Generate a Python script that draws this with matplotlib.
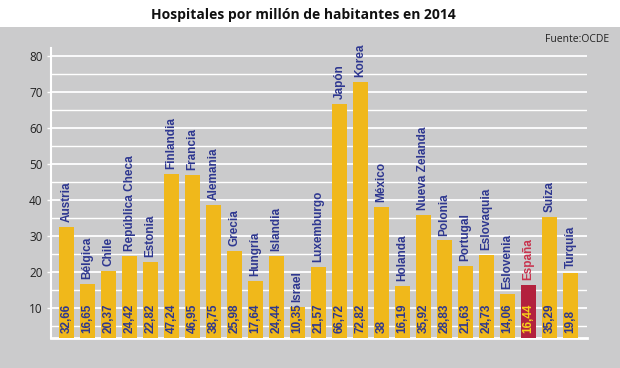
import matplotlib
matplotlib.use('Agg')
import matplotlib.pyplot as plt
from matplotlib.patches import Rectangle
from matplotlib.ticker import MultipleLocator

paises = ['Austria', 'Bélgica', 'Chile', 'República Checa', 'Estonia', 'Finlandia',
          'Francia', 'Alemania', 'Grecia', 'Hungría', 'Islandia', 'Israel',
          'Luxemburgo', 'Japón', 'Korea', 'México', 'Holanda', 'Nueva Zelanda',
          'Polonia', 'Portugal', 'Eslovaquia', 'Eslovenia', 'España', 'Suiza', 'Turquía']
hospitales = [32.66, 16.65, 20.37, 24.42, 22.82, 47.24, 46.95, 38.75, 25.98, 17.64,
              24.44, 10.35, 21.57, 66.72, 72.82, 38, 16.19, 35.92, 28.83, 21.63,
              24.73, 14.06, 16.44, 35.29, 19.8]
destacado = 'España'

GRIS = '#cbcbcc'
AMARILLO = '#f0b81b'
GRANATE = '#b3213e'
AZUL = '#2e3790'
narrow = ['Liberation Sans Narrow', 'Liberation Sans', 'DejaVu Sans']

fig = plt.figure(figsize=(6.2, 3.68), dpi=100)
fig.patch.set_facecolor(GRIS)
# franja blanca del titulo
fig.patches.append(Rectangle((0, 1 - 27 / 368), 1, 27 / 368, transform=fig.transFigure,
                             facecolor='white', edgecolor='none', zorder=-10))

ax = fig.add_axes([51 / 620, 30 / 368, 536 / 620, 290 / 368])
ax.set_facecolor('none')

x = list(range(len(paises)))
colores = [GRANATE if p == destacado else AMARILLO for p in paises]
ax.bar(x, hospitales, width=0.72, color=colores, zorder=3)

y0 = 1.75
ax.set_ylim(y0, 82.2)
ax.set_xlim(-0.74, len(paises) - 1 + 0.79)

for i, (p, v) in enumerate(zip(paises, hospitales)):
    es = p == destacado
    ax.annotate(p, (i, v), xytext=(0, 3.5), textcoords='offset points',
                rotation=90, ha='center', va='bottom', fontsize=8.5,
                fontweight='bold', family=narrow,
                color='#c8344f' if es else AZUL, zorder=4)
    etiqueta = f'{v:g}'.replace('.', ',')
    ax.annotate(etiqueta, (i, y0), xytext=(0, 3.5), textcoords='offset points',
                rotation=90, ha='center', va='bottom', fontsize=8.5,
                fontweight='bold', family=narrow,
                color='#f7d21a' if es else AZUL, zorder=4)

ax.yaxis.set_major_locator(MultipleLocator(10))
ax.yaxis.set_minor_locator(MultipleLocator(5))
ax.set_yticks(range(10, 81, 10))
ax.grid(axis='y', which='major', color='white', linewidth=1.3, zorder=1)
ax.grid(axis='y', which='minor', color='white', linewidth=1.0, zorder=1)
ax.set_axisbelow(True)
ax.tick_params(axis='y', which='major', length=3, width=1, color='white',
               labelsize=8.5, labelcolor='#222222', pad=3)
ax.tick_params(axis='y', which='minor', length=0)
ax.tick_params(axis='x', length=0, labelbottom=False)
for lbl in ax.get_yticklabels():
    lbl.set_family('Open Sans')

for s in ['top', 'right']:
    ax.spines[s].set_visible(False)
ax.spines['left'].set_color('white')
ax.spines['left'].set_linewidth(1.5)
ax.spines['bottom'].set_color('white')
ax.spines['bottom'].set_linewidth(2)

fig.text(0.49, 1 - 15 / 368, 'Hospitales por millón de habitantes en 2014',
         ha='center', va='center', fontsize=10, fontweight='bold',
         family='Open Sans', color='#111111')
fig.text(609 / 620, 1 - 39 / 368, 'Fuente:OCDE', ha='right', va='center',
         fontsize=7.5, family='Open Sans', color='#222222')

fig.savefig('out.png', dpi=100, facecolor=fig.get_facecolor())
